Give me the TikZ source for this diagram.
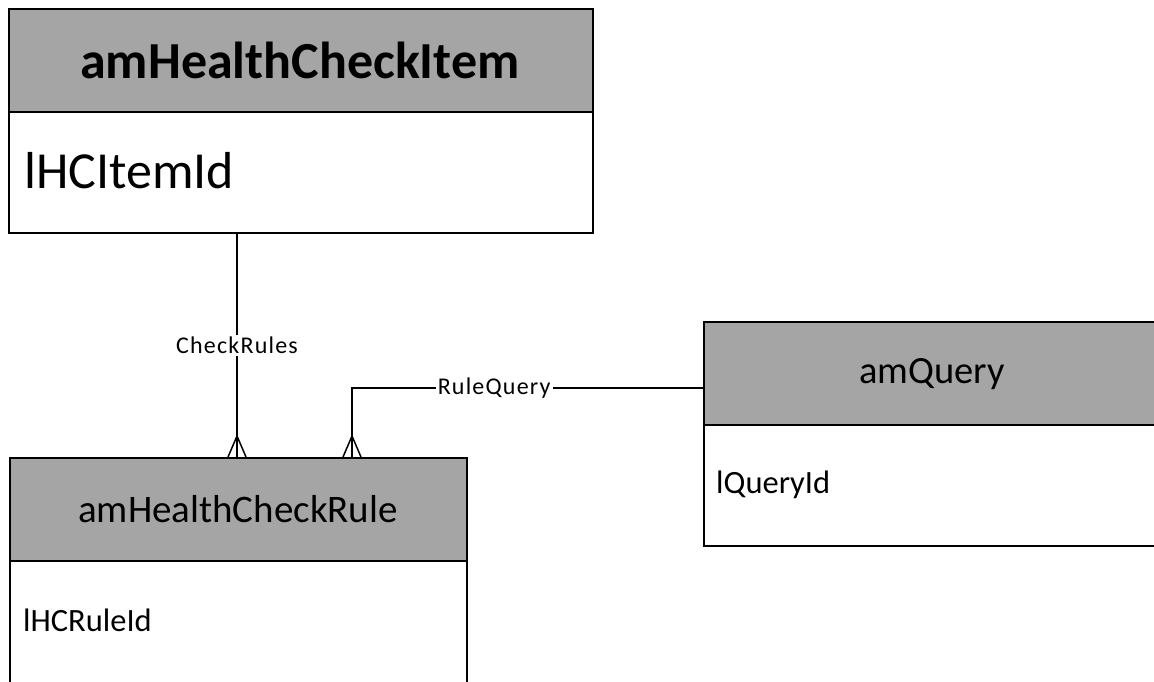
\documentclass[tikz,border=0pt]{standalone}
\usepackage{fontspec}
\setmainfont{Carlito}
\begin{document}
\begin{tikzpicture}[x=1pt,y=-1pt,
  hdr/.style={draw=black, line width=1.6pt, fill=hdrgray, anchor=north west, inner sep=0pt},
  bdy/.style={draw=black, line width=1.6pt, fill=white, anchor=north west, inner sep=0pt},
  attr/.style={anchor=west, inner sep=0pt},
  conn/.style={draw=black, line width=1.5pt},
  lbl/.style={fill=white, inner sep=2pt, font=\fontsize{24}{28}\selectfont\addfontfeature{LetterSpace=5}}
]
\definecolor{hdrgray}{HTML}{A5A5A5}
\useasboundingbox (0,0) rectangle (1154,681);
% amHealthCheckItem
\node[hdr, minimum width=584pt, minimum height=103pt] (itemH) at (8,8) {};
\node[font=\fontsize{52}{62}\bfseries] (itemT) at (300,60) {amHealthCheckItem};
\node[bdy, minimum width=584pt, minimum height=121pt] (itemB) at (8,111) {};
\node[attr, font=\fontsize{52}{62}\selectfont] (itemA) at (24,171) {lHCItemId};
% amHealthCheckRule
\node[hdr, minimum width=457pt, minimum height=103pt] (ruleH) at (9,457) {};
\node[font=\fontsize{39}{46}\selectfont] (ruleT) at (238,509) {amHealthCheckRule};
\node[bdy, minimum width=457pt, minimum height=130pt] (ruleB) at (9,560) {};
\node[attr, font=\fontsize{32.5}{38}\selectfont] (ruleA) at (23,620) {lHCRuleId};
% amQuery
\node[hdr, minimum width=460pt, minimum height=103pt] (qH) at (703,321) {};
\node[font=\fontsize{38.5}{46}\selectfont] (qT) at (932,374) {amQuery};
\node[bdy, minimum width=460pt, minimum height=121pt] (qB) at (703,424) {};
\node[attr, font=\fontsize{32.5}{38}\selectfont] (qA) at (716,485) {lQueryId};
% CheckRules
\coordinate (c1) at (237,457);
\draw[conn] (itemB.south -| c1) -- node[lbl, pos=0.5] (l1) {CheckRules} (c1);
\draw[conn] (c1) ++(0,-21) -- ++(-9,21);
\draw[conn] (c1) ++(0,-21) -- ++(9,21);
% RuleQuery
\coordinate (c2) at (352,457);
\coordinate (q2) at (703,388);
\draw[conn] (q2) -- node[lbl, pos=0.595] (l2) {RuleQuery} (q2 -| c2) -- (c2);
\draw[conn] (c2) ++(0,-21) -- ++(-9,21);
\draw[conn] (c2) ++(0,-21) -- ++(9,21);
\end{tikzpicture}
\end{document}
